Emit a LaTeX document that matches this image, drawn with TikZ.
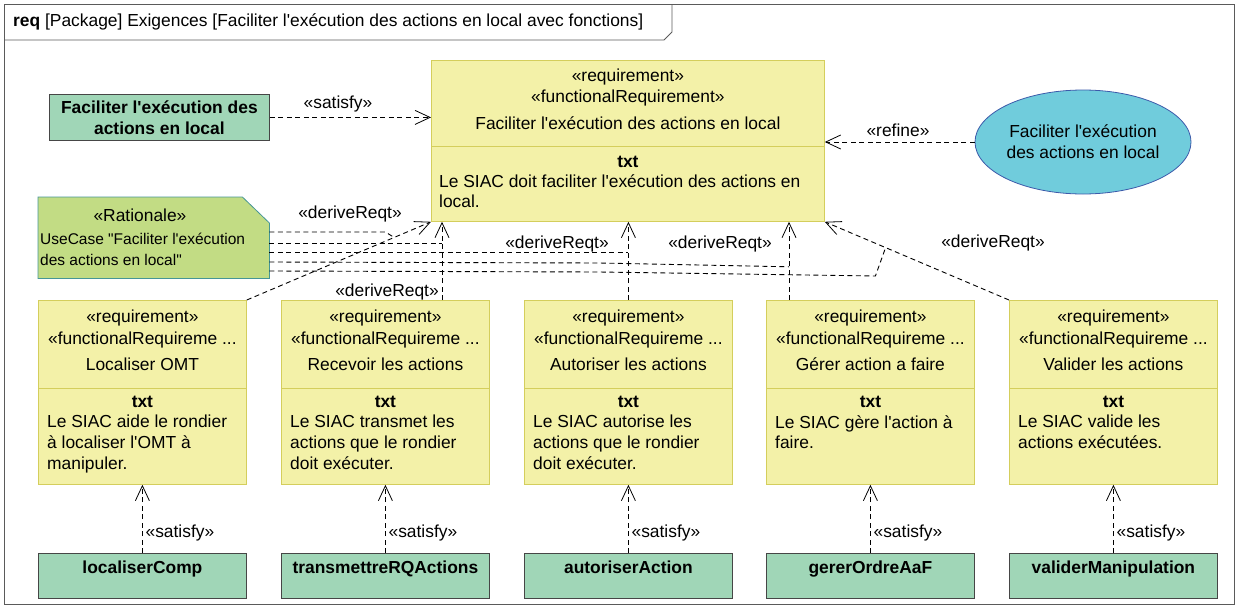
\documentclass[tikz,border=0pt]{standalone}
\usepackage{fontspec}
\setmainfont{Liberation Sans}[Ligatures=TeXOff]
\usetikzlibrary{arrows.meta,shapes.geometric,calc}

\definecolor{reqfill}{RGB}{243,241,168}
\definecolor{reqdraw}{RGB}{212,206,92}
\definecolor{blkfill}{RGB}{160,214,183}
\definecolor{blkdraw}{RGB}{70,70,70}
\definecolor{notefill}{RGB}{194,220,132}
\definecolor{notedraw}{RGB}{70,150,150}
\definecolor{ucfill}{RGB}{112,204,220}
\definecolor{ucdraw}{RGB}{60,90,170}
\definecolor{framec}{RGB}{90,90,90}

\tikzset{
  lbl/.style={font=\fontsize{17.4}{20.8}\selectfont, text=black, inner sep=0pt},
  bld/.style={font=\fontsize{17.4}{20.8}\selectfont\bfseries, text=black, inner sep=0pt},
  notetxt/.style={font=\fontsize{15.5}{21}\selectfont, text=black, inner sep=0pt},
  reqbox/.style={draw=reqdraw, fill=reqfill, line width=0.8pt, minimum width=208pt, minimum height=184pt, inner sep=0pt, anchor=north west},
  blkbox/.style={draw=blkdraw, fill=blkfill, line width=0.8pt, minimum width=208pt, minimum height=45pt, inner sep=0pt, anchor=north west},
  rel/.style={draw=black, line width=0.9pt, dash pattern=on 5pt off 3.5pt, -{Straight Barb[length=15pt,width=14pt,line width=0.8pt]}},
  link/.style={draw=black, line width=0.9pt, dash pattern=on 5pt off 3.5pt},
}

\newcommand{\reqcol}[5]{%
  \node[reqbox] (r#1) at (#2,300) {};
  \draw[reqdraw, line width=0.8pt] ($(r#1.north west)+(0,88)$) -- ($(r#1.north east)+(0,88)$);
  \node[lbl] (r#1s) at ($(r#1.north)+(0,18)$) {«requirement»};
  \node[lbl] (r#1f) at ($(r#1.north)+(0,40)$) {«functionalRequireme ...};
  \node[lbl] (r#1n) at ($(r#1.north)+(0,64)$) {#3};
  \node[bld] (r#1t) at ($(r#1.north)+(0,102)$) {txt};
  \node[lbl, align=left, anchor=north west] (r#1b) at ($(r#1.north west)+(9,115)$) {#4};
  \node[blkbox] (b#1) at (#2,553) {};
  \node[bld, anchor=base] (b#1n) at ($(b#1.north)+(0,20)$) {#5};
  \draw[rel] (b#1.north) -- (r#1.south);
  \node[lbl, anchor=west] (s#1) at ($(r#1.south)+(3,48)$) {«satisfy»};
}

\begin{document}
\begin{tikzpicture}[x=1pt,y=-1pt]
\useasboundingbox (0,0) rectangle (1238,608);

% frame
\draw[framec, line width=0.8pt] (4,4) rectangle (1234,604);
\draw[framec, line width=0.8pt] (4,40) -- (664,40) -- (672,32) -- (672,4);
\node[lbl, anchor=west] (title) at (13,22) {\textbf{req} [Package] Exigences [Faciliter l'exécution des actions en local avec fonctions]};

% top requirement
\node[draw=reqdraw, fill=reqfill, line width=0.8pt, minimum width=393pt, minimum height=161pt, inner sep=0pt, anchor=north west] (T) at (431,60) {};
\draw[reqdraw, line width=0.8pt] ($(T.north west)+(0,86)$) -- ($(T.north east)+(0,86)$);
\node[lbl] (Ts) at ($(T.north)+(0,17)$) {«requirement»};
\node[lbl] (Tf) at ($(T.north)+(0,38)$) {«functionalRequirement»};
\node[lbl] (Tn) at ($(T.north)+(0,63)$) {Faciliter l'exécution des actions en local};
\node[bld] (Tt) at ($(T.north)+(0,102)$) {txt};
\node[lbl, align=left, anchor=north west] (Tb) at ($(T.north west)+(8,114)$) {Le SIAC doit faciliter l'exécution des actions en\\local.};

% left block
\node[draw=blkdraw, fill=blkfill, line width=0.8pt, minimum width=220pt, minimum height=46pt, inner sep=0pt, anchor=north west] (F) at (49,94) {};
\node[bld, align=center] (Fn) at (F.center) {Faciliter l'exécution des\\actions en local};
\draw[rel] (F.east) -- (F.east -| T.west);
\node[lbl] (Fs) at (338,104) {«satisfy»};

% use case
\node[ellipse, draw=ucdraw, fill=ucfill, line width=0.8pt, minimum width=216pt, minimum height=104pt, inner sep=0pt] (U) at (1083,142) {};
\node[lbl, align=center] (Un) at (U.center) {Faciliter l'exécution\\des actions en local};
\draw[rel] (U.west) -- (U.west -| T.east);
\node[lbl] (Ur) at (898,130) {«refine»};

% rationale note
\node[minimum width=231pt, minimum height=81pt, inner sep=0pt, anchor=north west] (N) at (38,197) {};
\draw[draw=notedraw, fill=notefill, line width=0.8pt] (N.north west) -- ($(N.north east)+(-27,0)$) -- ($(N.north east)+(0,26)$) -- (N.south east) -- (N.south west) -- cycle;
\node[lbl] (Nh) at (140,215) {«Rationale»};
\node[notetxt, align=left, anchor=north west] (Nb) at (40,233) {UseCase "Faciliter l'exécution\\des actions en local"};

% lower columns
\reqcol{1}{38}{Localiser OMT}{Le SIAC aide le rondier\\à localiser l'OMT à\\manipuler.}{localiserComp}
\reqcol{2}{281}{Recevoir les actions}{Le SIAC transmet les\\actions que le rondier\\doit exécuter.}{transmettreRQActions}
\reqcol{3}{524}{Autoriser les actions}{Le SIAC autorise les\\actions que le rondier\\doit exécuter.}{autoriserAction}
\reqcol{4}{766}{Gérer action a faire}{Le SIAC gère l'action à\\faire.}{gererOrdreAaF}
\reqcol{5}{1009}{Valider les actions}{Le SIAC valide les\\actions exécutées.}{validerManipulation}

% deriveReqt
\coordinate (T2) at ($(T.south west)+(11,0)$);
\coordinate (T4) at ($(T.south west)+(358,0)$);
\draw[rel] (r1.north east) -- (T.south west);
\draw[rel] (T2 |- r2.north) -- (T2);
\draw[rel] (r3.north) -- (r3.north |- T.south);
\draw[rel] (T4 |- r4.north) -- (T4);
\draw[rel] (r5.north west) -- (T.south east);
\node[lbl] (d1) at (350,214) {«deriveReqt»};
\node[lbl] (d2) at (387,292) {«deriveReqt»};
\node[lbl] (d3) at (557,244) {«deriveReqt»};
\node[lbl] (d4) at (720,244) {«deriveReqt»};
\node[lbl] (d5) at (993,243) {«deriveReqt»};

% rationale links
\coordinate (n1) at ($(N.north east)+(0,35)$);
\coordinate (n2) at ($(N.north east)+(0,46)$);
\coordinate (n3) at ($(N.north east)+(0,55)$);
\coordinate (n4) at ($(N.north east)+(0,65)$);
\coordinate (n5) at ($(N.north east)+(0,74)$);
\draw[link] (n1) -- ($(n1)+(116,0)$) -- ($(r1.north east)!0.8!(T.south west)$);
\draw[link] (n2) -- (n2 -| T2);
\draw[link] (n3) -- (n3 -| r3.north);
\draw[link] (n4) -- ($(n4)+(330,1)$) -- ($(T4)+(0,45)$);
\draw[link] (n5) -- ($(n5)+(330,1)$) -- ($(n5)+(606,5)$) -- ($(r5.north west)!0.67!(T.south east)$);
\end{tikzpicture}
\end{document}
